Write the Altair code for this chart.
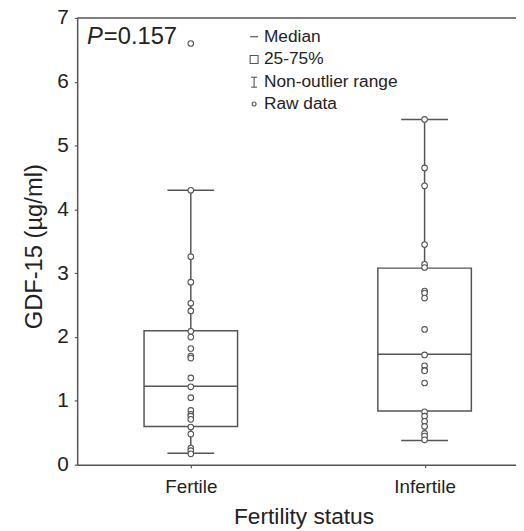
import altair as alt
import pandas as pd

# ---- data ----
groups = ["Fertile", "Infertile"]
group_pos = [1, 2]

fertile_values = [6.60, 4.30, 3.26, 2.86, 2.53, 2.41, 2.09, 2.00, 1.82, 1.70, 1.67,
                  1.36, 1.22, 1.05, 0.85, 0.79, 0.76, 0.71, 0.59, 0.48, 0.26, 0.22, 0.17]
infertile_values = [5.41, 4.65, 4.37, 3.45, 3.14, 3.09, 2.72, 2.69, 2.61, 2.12, 1.72,
                    1.55, 1.48, 1.47, 1.28, 0.83, 0.76, 0.68, 0.60, 0.49, 0.45, 0.39]

q1 = [0.60, 0.84]
median = [1.23, 1.73]
q3 = [2.10, 3.08]
whisker_low = [0.18, 0.38]
whisker_high = [4.30, 5.41]

y_ticks = [0, 1, 2, 3, 4, 5, 6, 7]

BOX_HALF = 0.2
CAP_HALF = 0.1
W, H = 444, 452
LINE = "#555555"
TEXT = "#222222"
FONT = "Liberation Sans"

stats = pd.DataFrame({
    "group": groups, "pos": group_pos, "q1": q1, "median": median, "q3": q3,
    "lo": whisker_low, "hi": whisker_high,
})
stats["box_l"] = stats["pos"] - BOX_HALF
stats["box_r"] = stats["pos"] + BOX_HALF
stats["cap_l"] = stats["pos"] - CAP_HALF
stats["cap_r"] = stats["pos"] + CAP_HALF

points = pd.DataFrame({
    "pos": [1] * len(fertile_values) + [2] * len(infertile_values),
    "value": fertile_values + infertile_values,
})

label_expr = "datum.value == 1 ? 'Fertile' : (datum.value == 2 ? 'Infertile' : '')"

xscale = alt.Scale(domain=[0.514, 2.391], nice=False, zero=False)
yscale = alt.Scale(domain=[0, 7], nice=False)
xaxis = alt.Axis(values=group_pos, labelExpr=label_expr, grid=False, titleX=229)
yaxis = alt.Axis(values=y_ticks, format="d", grid=False, titleY=231)


def XF(field):
    return alt.X(field, type="quantitative", scale=xscale, title="Fertility status", axis=xaxis)


def YF(field):
    return alt.Y(field, type="quantitative", scale=yscale, title="GDF-15 (µg/ml)", axis=yaxis)


base = alt.Chart(stats)

upper = base.mark_rule(color=LINE, strokeWidth=1.5).encode(
    x=XF("pos"), y=YF("q3"), y2="hi:Q")
lower = base.mark_rule(color=LINE, strokeWidth=1.5).encode(
    x=XF("pos"), y=YF("lo"), y2="q1:Q")
cap_hi = base.mark_rule(color=LINE, strokeWidth=1.5).encode(
    x=XF("cap_l"), x2="cap_r:Q", y=YF("hi"))
cap_lo = base.mark_rule(color=LINE, strokeWidth=1.5).encode(
    x=XF("cap_l"), x2="cap_r:Q", y=YF("lo"))
box = base.mark_rect(fill="white", stroke=LINE, strokeWidth=1.5).encode(
    x=XF("box_l"), x2="box_r:Q", y=YF("q1"), y2="q3:Q")
med = base.mark_rule(color=LINE, strokeWidth=1.5).encode(
    x=XF("box_l"), x2="box_r:Q", y=YF("median"))

pts = alt.Chart(points).mark_point(
    shape="circle", size=32, filled=True, fill="white", stroke=LINE, strokeWidth=1.1,
    opacity=1,
).encode(x=XF("pos"), y=YF("value"))

one = pd.DataFrame({"k": [0]})
top_line = alt.Chart(one).mark_rule(color=LINE, strokeWidth=1.5).encode(
    x=alt.value(0), x2=alt.value(W), y=alt.value(0))

p_italic = alt.Chart(one).mark_text(
    text="P", x=10, y=19, align="left", baseline="middle", fontSize=24,
    fontStyle="italic", font=FONT, color=TEXT)
p_value = alt.Chart(one).mark_text(
    text="=0.157", x=27, y=19, align="left", baseline="middle", fontSize=24,
    font=FONT, color=TEXT)

LX, TX = 179, 189
rows_y = [19, 42, 65, 87]
legend_texts = ["Median", "25-75%", "Non-outlier range", "Raw data"]
leg = []
for ty, txt in zip(rows_y, legend_texts):
    leg.append(alt.Chart(one).mark_text(
        text=txt, x=TX, y=ty, align="left", baseline="middle", fontSize=17.5,
        font=FONT, color=TEXT))
leg_median = alt.Chart(one).mark_rule(color=LINE, strokeWidth=1.2).encode(
    x=alt.value(LX - 4), x2=alt.value(LX + 4), y=alt.value(rows_y[0]))
leg_box = alt.Chart(one).mark_point(
    shape="square", size=64, filled=False, stroke=LINE, strokeWidth=1.1,
    x=LX, y=rows_y[1], opacity=1)
leg_range_v = alt.Chart(one).mark_rule(color=LINE, strokeWidth=1.1).encode(
    x=alt.value(LX), y=alt.value(rows_y[2] - 5), y2=alt.value(rows_y[2] + 5))
leg_range_t = alt.Chart(one).mark_rule(color=LINE, strokeWidth=1.1).encode(
    x=alt.value(LX - 3), x2=alt.value(LX + 3), y=alt.value(rows_y[2] - 5))
leg_range_b = alt.Chart(one).mark_rule(color=LINE, strokeWidth=1.1).encode(
    x=alt.value(LX - 3), x2=alt.value(LX + 3), y=alt.value(rows_y[2] + 5))
leg_raw = alt.Chart(one).mark_point(
    shape="circle", size=16, filled=False, stroke=LINE, strokeWidth=1.1,
    x=LX, y=rows_y[3], opacity=1)

chart = alt.layer(
    top_line, upper, lower, cap_hi, cap_lo, box, med, pts,
    p_italic, p_value, *leg, leg_median, leg_box,
    leg_range_v, leg_range_t, leg_range_b, leg_raw,
).properties(
    width=W, height=H,
    autosize=alt.AutoSizeParams(type="none"),
    padding={"left": 70, "top": 7, "right": 0, "bottom": 62},
).configure_view(stroke=None).configure_axis(
    domainColor=LINE, domainWidth=1.5, tickColor=LINE, tickSize=3, tickWidth=1.2,
    labelFont=FONT, titleFont=FONT, labelColor=TEXT, titleColor=TEXT,
    titleFontWeight="normal",
).configure_axisY(
    labelFontSize=21, labelPadding=6, titleFontSize=24, titlePadding=10,
).configure_axisX(
    labelFontSize=19, labelPadding=10, titleFontSize=23, titlePadding=10,
)

chart.save("out.html", embed_options={"renderer": "svg", "actions": False})
